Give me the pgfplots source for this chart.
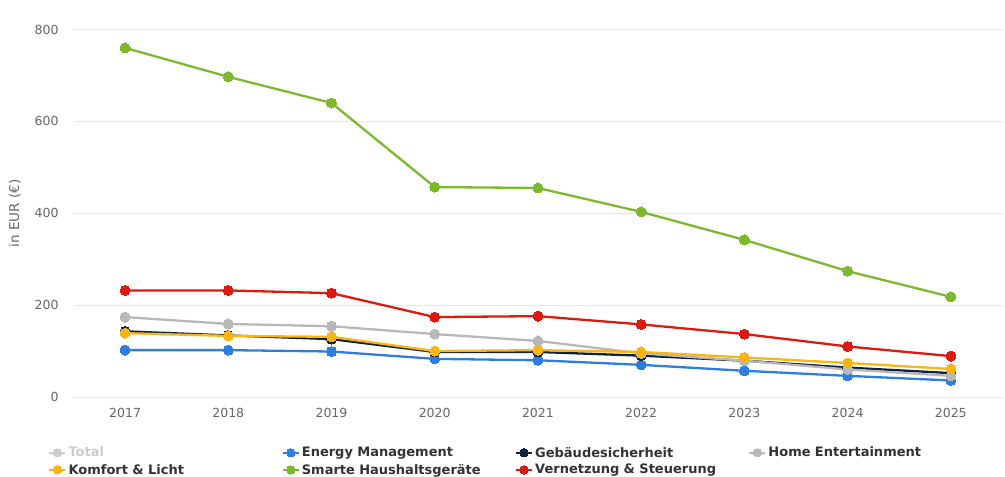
\documentclass[border=0pt]{standalone}
\usepackage{fontspec}
\setmainfont{DejaVu Sans}
\usepackage{pgfplots}
\pgfplotsset{compat=1.18}

\definecolor{cEnergy}{HTML}{2C7FE0}
\definecolor{cGeb}{HTML}{0D233A}
\definecolor{cHome}{HTML}{B8B8B8}
\definecolor{cKomfort}{HTML}{F9B515}
\definecolor{cSmart}{HTML}{7DB92C}
\definecolor{cVernetz}{HTML}{DC1A10}
\definecolor{cTotal}{HTML}{CCCCCC}
\definecolor{cGrid}{HTML}{E6E6E6}
\definecolor{cTick}{HTML}{666666}
\definecolor{cLegend}{HTML}{333333}

\pgfplotsset{
  series/.style={color=#1, line width=2.3pt, mark=*, mark size=5pt,
    mark options={solid, fill=#1, draw=#1, line width=0pt}},
}

\begin{document}
\begin{tikzpicture}
\useasboundingbox (0,0) rectangle (1005pt,477pt);
\begin{axis}[
  at={(75pt,80pt)}, anchor=south west,
  scale only axis, width=928pt, height=367.5pt,
  xmin=2016.515, xmax=2025.505, ymin=0, ymax=800,
  xtick={2017,...,2025}, ytick={0,200,...,800},
  /pgf/number format/1000 sep={},
  /pgf/number format/assume math mode=true,
  axis line style={draw=none},
  tick style={draw=none},
  ymajorgrids, grid style={cGrid, line width=1pt},
  tick label style={font=\fontsize{12.5}{15}\selectfont, text=cTick},
  xticklabel style={yshift=-8pt},
  yticklabel style={xshift=-13pt},
  ylabel={in EUR (€)},
  ylabel style={font=\fontsize{13.5}{15}\selectfont, text=cTick, at={(axis description cs:-0.0647,0.5)}, anchor=center},
  clip=false,
  legend columns=4,
  legend cell align=left,
  legend style={draw=none, fill=none, at={(axis description cs:-0.029,-0.13)}, anchor=north west,
    font=\bfseries\fontsize{13}{15}\selectfont, text=cLegend,
    inner sep=0pt, row sep=1.5pt,
    cells={text width=211pt}},
  legend image code/.code={\draw[mark repeat=2, mark phase=2, #1, line width=2.3pt, mark size=4.2pt]
    plot coordinates {(0pt,0pt) (8pt,0pt) (16pt,0pt)};},
]
\addlegendimage{series=cTotal}
\addlegendentry{\textcolor{cTotal}{Total}}

% Energy Management
\addplot[series=cEnergy] coordinates {
  (2017,102) (2018,102) (2019,99) (2020,83) (2021,80)
  (2022,70) (2023,57) (2024,46) (2025,36)};
\addlegendentry{Energy Management}

% Gebäudesicherheit
\addplot[series=cGeb] coordinates {
  (2017,143) (2018,134) (2019,126) (2020,98) (2021,98)
  (2022,90) (2023,79) (2024,64) (2025,52)};
\addlegendentry{Gebäudesicherheit}

% Home Entertainment
\addplot[series=cHome] coordinates {
  (2017,174) (2018,159) (2019,154) (2020,137) (2021,122)
  (2022,95) (2023,79) (2024,60) (2025,46)};
\addlegendentry{Home Entertainment}

% Komfort & Licht
\addplot[series=cKomfort] coordinates {
  (2017,139) (2018,133) (2019,131) (2020,100) (2021,102)
  (2022,98) (2023,86) (2024,74) (2025,61)};
\addlegendentry{Komfort \& Licht}

% Smarte Haushaltsgeräte
\addplot[series=cSmart] coordinates {
  (2017,760) (2018,697) (2019,640) (2020,457) (2021,455)
  (2022,403) (2023,342) (2024,274) (2025,218)};
\addlegendentry{Smarte Haushaltsgeräte}

% Vernetzung & Steuerung
\addplot[series=cVernetz] coordinates {
  (2017,232) (2018,232) (2019,226) (2020,174) (2021,176)
  (2022,158) (2023,137) (2024,110) (2025,89)};
\addlegendentry{Vernetzung \& Steuerung}
\end{axis}
\end{tikzpicture}
\end{document}
